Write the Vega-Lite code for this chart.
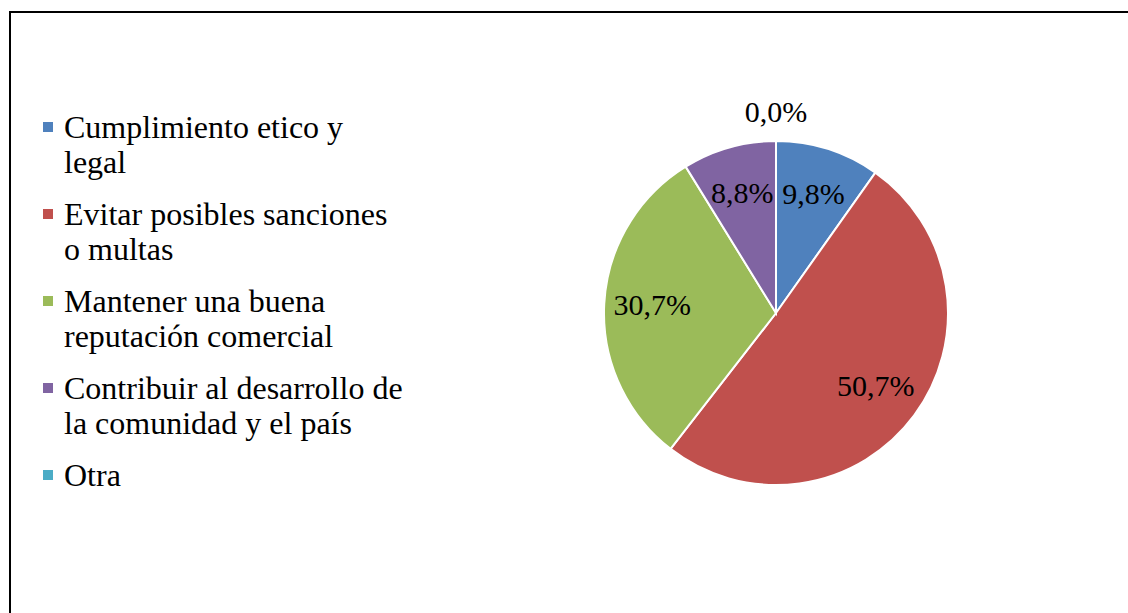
{
  "$schema": "https://vega.github.io/schema/vega-lite/v6.json",
  "width": 1532,
  "height": 602,
  "autosize": {"type": "none"},
  "padding": {"left": 10, "top": 12, "right": 0, "bottom": 0},
  "background": "white",
  "view": {"stroke": "black", "strokeWidth": 2, "fill": "white"},
  "config": {
    "view": {"stroke": "black", "strokeWidth": 2},
    "font": "Liberation Serif",
    "locale": {"number": {"decimal": ",", "thousands": ".", "grouping": [3], "currency": ["", " €"]}},
    "style": {"guide-label": {"dy": 11, "lineHeight": 35}}
  },
  "data": {
    "values": [
      {"idx": 1, "cat": "Cumplimiento etico y legal", "pct": 0.098},
      {"idx": 2, "cat": "Evitar posibles sanciones o multas", "pct": 0.507},
      {"idx": 3, "cat": "Mantener una buena reputación comercial", "pct": 0.307},
      {"idx": 4, "cat": "Contribuir al desarrollo de la comunidad y el país", "pct": 0.088},
      {"idx": 5, "cat": "Otra", "pct": 0.0}
    ]
  },
  "encoding": {
    "theta": {"field": "pct", "type": "quantitative", "stack": true},
    "order": {"field": "idx", "type": "quantitative"}
  },
  "layer": [
    {
      "mark": {"type": "arc", "outerRadius": 172, "stroke": "white", "strokeWidth": 2},
      "encoding": {
        "color": {
          "field": "cat",
          "type": "nominal",
          "sort": null,
          "scale": {
            "domain": ["Cumplimiento etico y legal", "Evitar posibles sanciones o multas", "Mantener una buena reputación comercial", "Contribuir al desarrollo de la comunidad y el país", "Otra"],
            "range": ["#4F81BD", "#C0504D", "#9BBB59", "#8064A2", "#4BACC6"]
          },
          "legend": {
            "title": null,
            "orient": "none",
            "legendX": 22,
            "legendY": 99,
            "symbolType": "square",
            "symbolSize": 100,
            "symbolStrokeWidth": 0,
            "labelFont": "Liberation Serif",
            "labelFontSize": 32,
            "labelColor": "black",
            "labelLimit": 500,
            "labelOffset": 0,
            "labelBaseline": "alphabetic",
            "rowPadding": 19,
            "labelExpr": "datum.label == 'Cumplimiento etico y legal' ? ['Cumplimiento etico y', 'legal'] : datum.label == 'Evitar posibles sanciones o multas' ? ['Evitar posibles sanciones', 'o multas'] : datum.label == 'Mantener una buena reputación comercial' ? ['Mantener una buena', 'reputación comercial'] : datum.label == 'Contribuir al desarrollo de la comunidad y el país' ? ['Contribuir al desarrollo de', 'la comunidad y el país'] : datum.label"
          }
        }
      }
    },
    {
      "transform": [{"filter": "datum.pct > 0"}],
      "mark": {"type": "text", "radius": 124, "fontSize": 30, "font": "Liberation Serif", "color": "black"},
      "encoding": {"text": {"field": "pct", "type": "quantitative", "format": ".1%"}}
    },
    {
      "transform": [{"filter": "datum.pct == 0"}],
      "mark": {"type": "text", "radius": 200, "fontSize": 30, "font": "Liberation Serif", "color": "black"},
      "encoding": {"text": {"field": "pct", "type": "quantitative", "format": ".1%"}}
    }
  ]
}
